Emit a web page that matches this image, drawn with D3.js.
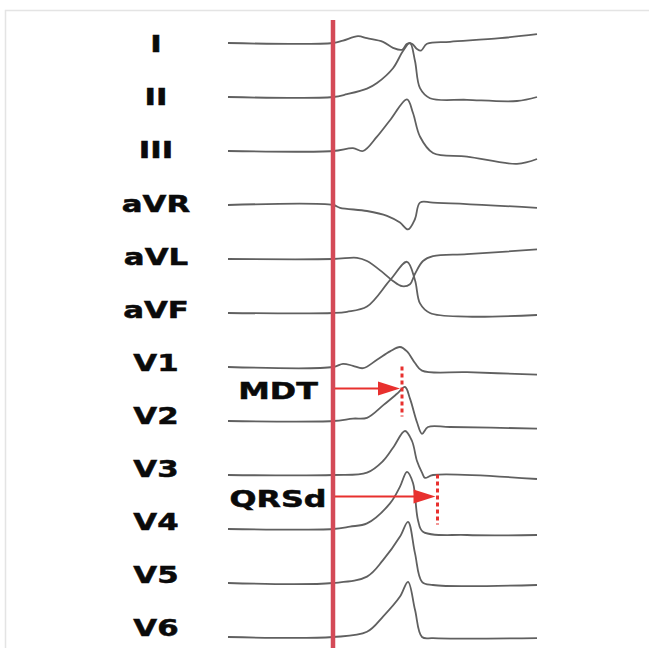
<!DOCTYPE html>
<html>
<head>
<meta charset="utf-8">
<script src="https://cdn.jsdelivr.net/npm/d3@7"></script>
<style>
  html, body { margin: 0; padding: 0; background: #fff; }
  #vis-ecg { width: 649px; height: 648px; overflow: hidden; }
  svg { display: block; }
</style>
</head>
<body>
<div id="vis-ecg"></div>
<script>
// leads, top to bottom
const leads = ["I", "II", "III", "aVR", "aVL", "aVF", "V1", "V2", "V3", "V4", "V5", "V6"];

// each lead: [time in ms from QRS onset, amplitude in mV]
const leadI = [[-210, 0], [0, 0], [20, 0.06], [50, 0.17], [68, 0.12], [100, 0.03], [120, -0.12], [138, -0.17], [148, -0.02], [158, -0.02], [168, -0.15], [176, -0.19], [188, -0.02], [234, 0.03], [334, 0.12], [408, 0.22]];
const leadII = [[-210, 0], [0, 0], [28, 0.07], [68, 0.21], [88, 0.35], [120, 0.72], [140, 1.15], [154, 1.35], [164, 0.9], [174, 0.22], [194, -0.03], [268, -0.07], [368, -0.1], [408, 0]];
const leadIII = [[-210, 0], [0, 0], [40, 0.07], [60, 0], [88, 0.36], [114, 0.77], [148, 1.29], [160, 0.95], [174, 0.36], [200, -0.05], [268, -0.14], [368, -0.32], [408, -0.2]];
const leadAVR = [[-210, 0], [0, 0], [14, -0.07], [68, -0.15], [108, -0.27], [134, -0.44], [150, -0.61], [164, -0.35], [174, 0.06], [200, 0.06], [408, -0.07]];
const leadAVL = [[-210, 0], [0, 0], [48, 0.03], [68, -0.05], [100, -0.34], [120, -0.55], [138, -0.68], [154, -0.63], [164, -0.37], [180, -0.05], [200, 0.07], [268, 0.12], [408, 0.24]];
const leadAVF = [[-210, 0], [0, 0], [28, 0.03], [68, 0.16], [114, 0.82], [148, 1.28], [164, 0.82], [174, 0.24], [194, 0], [268, -0.09], [408, -0.05]];
const leadV1 = [[-210, 0], [0, 0], [20, 0.08], [40, 0.03], [60, -0.03], [88, 0.18], [114, 0.39], [134, 0.5], [148, 0.39], [164, 0.1], [178, -0.09], [268, -0.13], [408, -0.19]];
const leadV2 = [[-210, 0], [0, 0], [40, 0.06], [68, 0.08], [100, 0.39], [128, 0.68], [144, 0.85], [154, 0.56], [168, -0.03], [178, -0.32], [190, -0.15], [234, -0.15], [408, -0.19]];
const leadV3 = [[-210, 0], [0, 0], [68, 0.06], [100, 0.35], [120, 0.68], [144, 1.1], [158, 0.85], [168, 0.35], [178, 0.06], [184, -0.07], [200, 0], [408, -0.1]];
const leadV4 = [[-210, 0], [0, 0], [34, 0.06], [68, 0.14], [114, 0.64], [134, 1.06], [148, 1.43], [160, 1.15], [170, 0.22], [180, -0.07], [268, -0.15], [408, -0.15]];
const leadV5 = [[-210, 0], [0, 0], [68, 0.16], [100, 0.57], [134, 1.16], [150, 1.53], [164, 0.74], [178, 0.03], [200, -0.05], [408, -0.05]];
const leadV6 = [[-210, 0], [0, 0], [68, 0.13], [100, 0.51], [134, 1.01], [150, 1.38], [164, 0.68], [178, 0], [200, -0.03], [408, -0.03]];
const traces = [leadI, leadII, leadIII, leadAVR, leadAVL, leadAVF, leadV1, leadV2, leadV3, leadV4, leadV5, leadV6];

// measured intervals (ms from onset) and the lead the arrow sits under
const markerNames = ["MDT", "QRSd"];
const markerTimes = [138, 209];
const markerLeads = ["V1", "V3"];

class VisEcg {
  constructor() {
    this.init();
  }

  init() {
    this.width = 649;
    this.height = 648;
    this.labelX = 156;
    this.labelStretch = 1.34;
    this.ink = "#e8302e";

    this.x = d3.scaleLinear().domain([-210, 408]).range([228, 537]);
    this.row = d3.scalePoint().domain(leads).range([43, 637]);
    // the lead names sit on a slightly tighter grid than the traces
    this.labelRow = d3.scalePoint().domain(leads).range([44, 628]);
    this.amp = d3.scaleLinear().domain([0, 1]).range([0, -40]);

    this.svg = d3
      .select("#vis-ecg")
      .append("svg")
      .attr("width", this.width)
      .attr("height", this.height)
      .style("font-family", "'DejaVu Sans', Verdana, sans-serif");

    this.render();
  }

  render() {
    this.renderFrame();
    this.renderLabels();
    this.renderTraces();
    this.renderOnset();
    this.renderMarkers();
  }

  renderFrame() {
    this.svg
      .append("rect")
      .attr("x", 5.5)
      .attr("y", 10.5)
      .attr("width", 700)
      .attr("height", 700)
      .attr("fill", "none")
      .attr("stroke", "#e4e4e4")
      .attr("stroke-width", 1.5);
  }

  renderLabels() {
    this.svg
      .append("g")
      .selectAll("text")
      .data(leads)
      .join("text")
      .attr("transform", (d) => `translate(${this.labelX},${this.labelRow(d)}) scale(${this.labelStretch},1)`)
      .attr("text-anchor", "middle")
      .attr("dy", "0.36em")
      .attr("font-size", 23)
      .attr("font-weight", "bold")
      .attr("fill", "#0a0a0a")
      .attr("stroke", "#0a0a0a")
      .attr("stroke-width", 0.5)
      .text((d) => d);
  }

  renderTraces() {
    const line = d3
      .line()
      .x((d) => this.x(d[0]))
      .y((d) => this.amp(d[1]))
      .curve(d3.curveCatmullRom.alpha(0.5));

    this.svg
      .append("g")
      .selectAll("path")
      .data(traces)
      .join("path")
      .attr("transform", (d, i) => `translate(0,${this.row(leads[i])})`)
      .attr("fill", "none")
      .attr("stroke", "#606060")
      .attr("stroke-width", 1.8)
      .attr("stroke-linejoin", "round")
      .attr("d", line);
  }

  renderOnset() {
    this.svg
      .append("line")
      .attr("x1", this.x(0))
      .attr("x2", this.x(0))
      .attr("y1", 20)
      .attr("y2", this.height)
      .attr("stroke", "#d44a57")
      .attr("stroke-width", 4.5);
  }

  renderMarkers() {
    const step = this.row.step();
    const startX = this.x(0) + 2;

    const g = this.svg
      .append("g")
      .selectAll("g")
      .data(markerNames)
      .join("g")
      .attr("transform", (d, i) => `translate(0,${this.row(markerLeads[i]) + step / 2 - 5.5})`);

    g.append("line")
      .attr("x1", startX)
      .attr("x2", (d, i) => this.x(markerTimes[i]) - 20)
      .attr("stroke", this.ink)
      .attr("stroke-width", 2);

    g.append("path")
      .attr("fill", this.ink)
      .attr("d", (d, i) => {
        const tip = this.x(markerTimes[i]) - 2;
        return `M${tip},0L${tip - 22},-7L${tip - 22},7Z`;
      });

    g.append("line")
      .attr("x1", (d, i) => this.x(markerTimes[i]))
      .attr("x2", (d, i) => this.x(markerTimes[i]))
      .attr("y1", -22)
      .attr("y2", 28)
      .attr("stroke", this.ink)
      .attr("stroke-width", 3)
      .attr("stroke-dasharray", "4,3");

    g.append("text")
      .attr("transform", `translate(${this.labelX + 122},2) scale(1.38,1)`)
      .attr("text-anchor", "middle")
      .attr("dy", "0.36em")
      .attr("font-size", 23)
      .attr("font-weight", "bold")
      .attr("fill", "#0a0a0a")
      .attr("stroke", "#0a0a0a")
      .attr("stroke-width", 0.5)
      .text((d) => d);
  }
}

new VisEcg();
</script>
</body>
</html>
